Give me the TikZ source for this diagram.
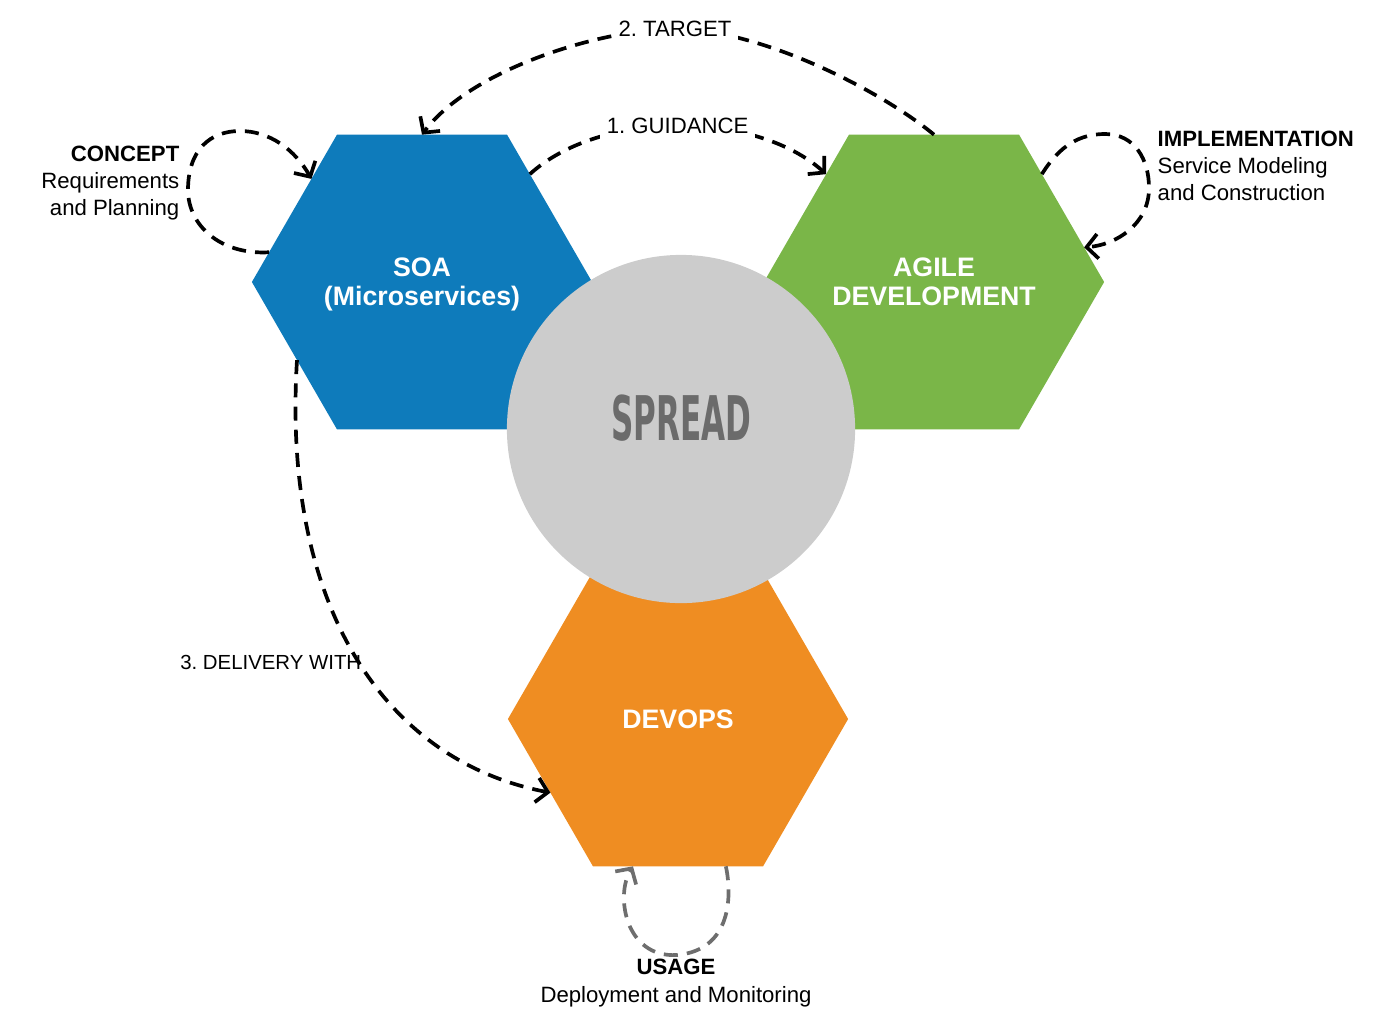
\documentclass[tikz,border=0pt]{standalone}
\usepackage{fontspec}
\setmainfont{Liberation Sans}
\newfontfamily\condfont{DejaVu Sans Condensed}
\usepackage{graphicx}
\usepackage{xcolor}
\usepackage{tikz}
\usetikzlibrary{arrows.meta,shapes.geometric}
\frenchspacing

\definecolor{soablue}{HTML}{0E7BBB}
\definecolor{agilegreen}{HTML}{7AB648}
\definecolor{devopsorange}{HTML}{EF8D22}
\definecolor{spreadfill}{HTML}{CCCCCC}
\definecolor{spreadtext}{HTML}{6B6B6B}
\definecolor{loopgray}{HTML}{6E6E6E}

\newcommand{\hexlabel}[1]{\raisebox{-0.9pt}[\height][\depth]{\begin{tabular}{@{}c@{}}#1\end{tabular}}}

\begin{document}
\begin{tikzpicture}[x=0.01cm,y=-0.01cm,
  hexa/.style={regular polygon,regular polygon sides=6,minimum size=3.4cm,
    inner sep=0pt,outer sep=0pt,text=white,
    font=\bfseries\fontsize{7.6}{8.4}\selectfont},
  flow/.style={line width=1.05pt,dash pattern=on 4pt off 2.6pt,
    -{Straight Barb[length=3.2pt,width=7pt]}},
  lbl/.style={font=\fontsize{6.3}{7.7}\selectfont}]
\useasboundingbox (0,0) rectangle (1380,1027);

% Hexagons
\node[hexa,fill=soablue] (soa) at (422,282) {\hexlabel{SOA\\(Microservices)}};
\node[hexa,fill=agilegreen] (agile) at (934,282) {\hexlabel{AGILE\\DEVELOPMENT}};
\node[hexa,fill=devopsorange] (devops) at (678,719) {\hexlabel{DEVOPS}};

% Centre circle
\node[circle,fill=spreadfill,minimum size=3.48cm,inner sep=0pt] (spread) at (681,429)
  {\raisebox{3.2pt}[\height][\depth]{\textcolor{spreadtext}{\condfont\bfseries\fontsize{17.5}{17.5}\selectfont\scalebox{0.56}[1]{SPREAD}}}};

% 1. guidance
\draw[flow] (soa.45) .. controls (600,110) and (755,110) .. (agile.135)
  node[pos=0.5,lbl,fill=white,inner sep=2pt] (guide) {1. GUIDANCE};

% 2. target
\draw[flow] (agile.90) .. controls (880,90) and (760,29) .. (675,29)
  node[lbl,fill=white,inner sep=2pt] (target) {2. TARGET}
  .. controls (600,29) and (470,70) .. (soa.90);

% 3. delivery
\draw[flow] (soa.212) .. controls (282,600) and (380,760) .. (devops.210)
  node[pos=0.52,anchor=east,inner sep=0pt,xshift=1pt,
    font=\fontsize{5.8}{7}\selectfont] (deliv) {3. DELIVERY WITH};

% Loops
\draw[flow] (soa.169) .. controls (220,255) and (188,225) .. (188,190)
  .. controls (188,150) and (210,131) .. (240,131)
  .. controls (270,131) and (295,150) .. (soa.137);
\draw[flow] (agile.45) .. controls (1060,145) and (1080,134) .. (1105,134)
  .. controls (1135,134) and (1149,160) .. (1149,188)
  .. controls (1149,225) and (1115,245) .. (agile.13);
\draw[flow,loopgray] (devops.288) .. controls (732,895) and (732,950) .. (677,955)
  .. controls (625,958) and (615,895) .. (devops.253);

% Labels
\node[lbl,anchor=east,align=right,inner sep=0pt] (concept) at (180,183)
  {\textbf{CONCEPT}\\Requirements\\and Planning};
\node[lbl,anchor=west,align=left,inner sep=0pt] (impl) at (1157,166)
  {\textbf{IMPLEMENTATION}\\Service Modeling\\and Construction};
\node[lbl,align=center] (usage) at (676,983)
  {\textbf{USAGE}\\Deployment and Monitoring};

\end{tikzpicture}
\end{document}
